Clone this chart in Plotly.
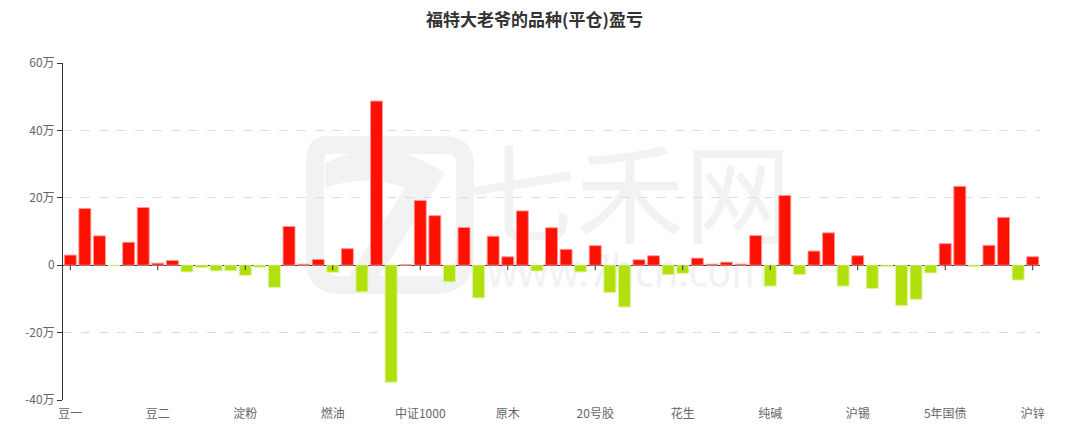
import base64
import plotly.graph_objects as go

categories = [
    "豆一", "豆粕", "豆油", "玉米", "棕榈油", "鸡蛋",
    "豆二", "生猪", "菜粕", "菜油", "白糖", "棉花",
    "淀粉", "苹果", "红枣", "尿素", "甲醇", "PTA",
    "燃油", "沥青", "螺纹钢", "热卷", "铁矿石", "焦炭",
    "中证1000", "沪深300", "上证50", "中证500", "焦煤", "硅铁",
    "原木", "锰硅", "纸浆", "橡胶", "丁二烯橡胶", "塑料",
    "20号胶", "聚丙烯", "PVC", "苯乙烯", "乙二醇", "短纤",
    "花生", "玻璃", "烧碱", "纯苯", "对二甲苯", "瓶片",
    "纯碱", "沪铜", "沪铝", "沪铅", "沪镍", "氧化铝",
    "沪锡", "沪金", "沪银", "工业硅", "碳酸锂", "多晶硅",
    "5年国债", "10年国债", "2年国债", "30年国债", "集运欧线", "低硫燃油",
    "沪锌",
]

# profit / loss in 万 (10k yuan)
values = [
    3.0, 16.8, 8.7, -0.2, 6.8, 17.1,
    0.6, 1.4, -2.0, -0.7, -1.7, -1.6,
    -3.0, -0.6, -6.6, 11.5, 0.3, 1.7,
    -2.1, 4.9, -7.9, 48.7, -34.7, 0.15,
    19.2, 14.7, -4.9, 11.2, -9.7, 8.6,
    2.5, 16.1, -1.7, 11.1, 4.7, -2.0,
    5.8, -8.1, -12.4, 1.6, 2.8, -2.8,
    -2.4, 2.1, 0.3, 0.9, 0.3, 8.8,
    -6.2, 20.7, -2.8, 4.2, 9.6, -6.2,
    2.8, -6.9, -0.4, -12.0, -10.1, -2.3,
    6.4, 23.4, -0.4, 5.9, 14.2, -4.4,
    2.5,
]

tick_labels = ["豆一", "豆二", "淀粉", "燃油", "中证1000", "原木",
               "20号胶", "花生", "纯碱", "沪锡", "5年国债", "沪锌"]
y_ticks = [-40, -20, 0, 20, 40, 60]
y_tick_text = [f"{v}万" if v != 0 else "0" for v in y_ticks]

RED = "#ff1000"
GREEN = "#b2e00c"
colors = [RED if v >= 0 else GREEN for v in values]
edge = ["rgba(255,150,150,0.9)" if v >= 0 else "rgba(220,245,150,0.9)" for v in values]

fig = go.Figure()
fig.add_trace(go.Bar(
    x=categories, y=values,
    marker=dict(color=colors, line=dict(color=edge, width=1)),
    hovertemplate="%{x}: %{y}万<extra></extra>",
))

# watermark (below the plot)
svg = """<svg xmlns='http://www.w3.org/2000/svg' width='977' height='337' viewBox='0 0 977 337'>
<g fill='#f2f2f2'>
<path d='M262 82 h120 q20 0 20 20 v90 q0 30 -30 30 h-95 q-25 0 -25 -25 v-95 q0 -20 10 -20 z' fill='none' stroke='#f2f2f2' stroke-width='18'/>
<path d='M262 100 q60 -30 120 10 l-70 110 h-30 l60 -95 q-40 -15 -80 0 z'/>
<text x='405' y='172' font-family='Noto Sans CJK SC' font-size='108'>七禾网</text>
<text x='424' y='224' font-family='Noto Sans' font-size='46' textLength='281' lengthAdjust='spacingAndGlyphs'>www.7hcn.com</text>
</g></svg>"""
src = "data:image/svg+xml;base64," + base64.b64encode(svg.encode("utf-8")).decode("ascii")
fig.add_layout_image(dict(source=src, xref="paper", yref="paper", x=0, y=1,
                          sizex=1, sizey=1, sizing="stretch", layer="below",
                          xanchor="left", yanchor="top"))

# small ticks on the zero line at labelled categories
for lab in tick_labels:
    fig.add_shape(type="line", xref="x", yref="y", x0=lab, x1=lab,
                  ysizemode="pixel", yanchor=0, y0=0, y1=-5,
                  line=dict(color="#333", width=1))

fig.update_layout(
    width=1053, height=413,
    margin=dict(l=55, r=21, t=55, b=21, autoexpand=False),
    paper_bgcolor="white", plot_bgcolor="rgba(0,0,0,0)",
    bargap=0.18,
    showlegend=False,
    font=dict(family="Noto Sans CJK SC, Noto Sans, sans-serif", color="#666", size=12),
    title=dict(text="福特大老爷的品种(平仓)盈亏", x=0.5, xref="container",
               y=0.972, yref="container", yanchor="middle",
               font=dict(size=17, color="#333", weight="bold")),
)
fig.update_xaxes(
    type="category", tickmode="array", tickvals=tick_labels, ticktext=tick_labels,
    showgrid=False, showline=False, ticks="outside", ticklen=3,
    tickcolor="rgba(0,0,0,0)", tickangle=0, automargin=False,
    tickfont=dict(size=12, color="#666"),
)
fig.update_yaxes(
    range=[-40, 60], tickmode="array", tickvals=y_ticks, ticktext=y_tick_text,
    showgrid=True, gridcolor="#dcdcdc", griddash="dash", gridwidth=1,
    showline=True, linecolor="#333", linewidth=1, automargin=False,
    ticks="outside", ticklen=5, tickcolor="#333",
    zeroline=True, zerolinecolor="#333", zerolinewidth=1,
    tickfont=dict(size=12, color="#666"),
)

fig.write_html("out.html")
